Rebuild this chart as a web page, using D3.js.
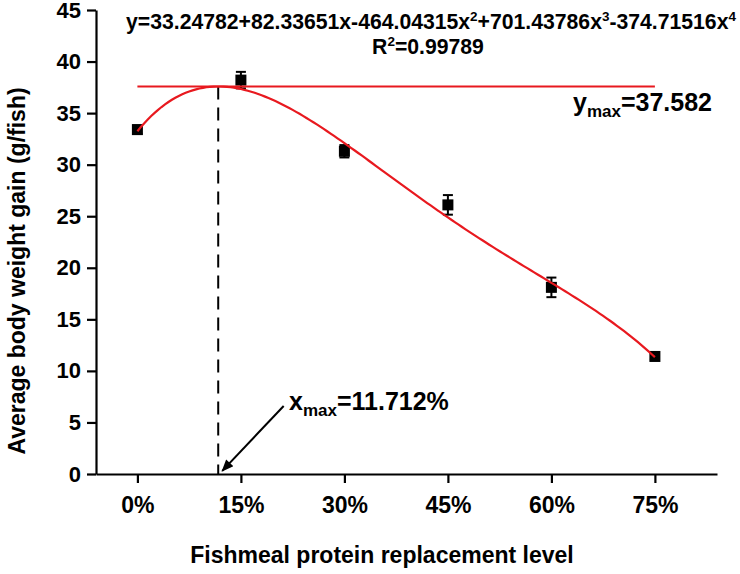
<!DOCTYPE html>
<html>
<head>
<meta charset="utf-8">
<script src="https://cdn.jsdelivr.net/npm/d3@7"></script>
<style>
  body { margin: 0; background: #fff; }
  svg text { font-family: "Liberation Sans", Arial, sans-serif; font-weight: bold; fill: #000; }
</style>
</head>
<body>
<svg id="chart" width="740" height="574"></svg>
<script>
// replacement levels (fraction) and measured gains
var levels = [0, 0.15, 0.30, 0.45, 0.60, 0.75];
var levelLabels = ["0%", "15%", "30%", "45%", "60%", "75%"];
var gain = [33.4, 38.2, 31.3, 26.1, 18.1, 11.4];
var gainErr = [0.4, 0.8, 0.6, 0.95, 0.95, 0.3];

// fitted polynomial, coefficients from the printed equation (c0 + c1 x + ...)
var coef = [33.24782, 82.33651, -464.04315, 701.43786, -374.71516];
var xMax = 0.11712;
var yMax = 37.582;

var yTicks = [0, 5, 10, 15, 20, 25, 30, 35, 40, 45];

var svg = d3.select("#chart");
var red = "#e8191f";

var x = d3.scaleLinear().domain([-0.06, 0.84]).range([96, 717]);
var y = d3.scaleLinear().domain([0, 45]).range([474, 10]);

// axes
var yAxis = d3.axisLeft(y).tickValues(yTicks).tickSize(9).tickPadding(6).tickSizeOuter(0);
var gy = svg.append("g").attr("transform", "translate(" + x.range()[0] + ",0)").call(yAxis);
gy.selectAll("text").style("font-size", "22px");

var xAxis = d3.axisBottom(x).tickValues(levels).tickFormat(function(d, i){ return levelLabels[i]; })
	.tickSize(9).tickPadding(14).tickSizeOuter(0);
var gx = svg.append("g").attr("transform", "translate(0," + y(0) + ")").call(xAxis);
gx.selectAll("text").style("font-size", "23px");

svg.selectAll(".domain").attr("stroke", "#000").attr("stroke-width", 2.2);
svg.selectAll(".tick line").attr("stroke", "#000").attr("stroke-width", 2.2);

// axis titles
svg.append("text")
	.attr("x", 382).attr("y", 563)
	.attr("text-anchor", "middle")
	.style("font-size", "23px")
	.text("Fishmeal protein replacement level");

svg.append("text")
	.attr("transform", "translate(25,271) rotate(-90)")
	.attr("text-anchor", "middle")
	.style("font-size", "23px")
	.text("Average body weight gain (g/fish)");

// error bars + markers
var pts = levels.map(function(d, i){ return {x: d, y: gain[i], e: gainErr[i]}; });
var eb = svg.append("g").attr("stroke", "#000").attr("stroke-width", 2);
pts.forEach(function(p){
	eb.append("line").attr("x1", x(p.x)).attr("x2", x(p.x)).attr("y1", y(p.y - p.e)).attr("y2", y(p.y + p.e));
	eb.append("line").attr("x1", x(p.x) - 5).attr("x2", x(p.x) + 5).attr("y1", y(p.y - p.e)).attr("y2", y(p.y - p.e));
	eb.append("line").attr("x1", x(p.x) - 5).attr("x2", x(p.x) + 5).attr("y1", y(p.y + p.e)).attr("y2", y(p.y + p.e));
});
svg.append("g").selectAll("rect").data(pts).enter()
	.append("rect")
	.attr("x", function(d){ return x(d.x) - 5.5; })
	.attr("y", function(d){ return y(d.y) - 5.5; })
	.attr("width", 11).attr("height", 11)
	.attr("fill", "#000");

// dashed line at x max
svg.append("line")
	.attr("x1", x(xMax)).attr("x2", x(xMax))
	.attr("y1", y(yMax)).attr("y2", y(0))
	.attr("stroke", "#000").attr("stroke-width", 2)
	.attr("stroke-dasharray", "13,8");

// horizontal line at y max
svg.append("line")
	.attr("x1", x(0)).attr("x2", x(0.75))
	.attr("y1", y(yMax)).attr("y2", y(yMax))
	.attr("stroke", red).attr("stroke-width", 2);

// fit curve
function poly(v){
	var s = 0;
	for (var k = 0; k < coef.length; k++){ s += coef[k] * Math.pow(v, k); }
	return s;
}
var curve = d3.range(0, 0.7501, 0.005).map(function(v){ return [v, poly(v)]; });
svg.append("path")
	.datum(curve)
	.attr("fill", "none")
	.attr("stroke", red)
	.attr("stroke-width", 2.2)
	.attr("d", d3.line().x(function(d){ return x(d[0]); }).y(function(d){ return y(d[1]); }));

// equation (text pieces with superscripts)
var eqParts = ["y=33.24782+82.33651x-464.04315x", "+701.43786x", "-374.71516x"];
var eqPowers = ["2", "3", "4"];
var eq = svg.append("text").attr("x", 431).attr("y", 29).attr("text-anchor", "middle").style("font-size", "21.2px");
eqParts.forEach(function(p, i){
	eq.append("tspan").attr("dy", i == 0 ? 0 : 8).text(p);
	eq.append("tspan").attr("dy", -8).style("font-size", "13.5px").text(eqPowers[i]);
});
var r2 = svg.append("text").attr("x", 428).attr("y", 54).attr("text-anchor", "middle").style("font-size", "21.2px");
r2.append("tspan").text("R");
r2.append("tspan").attr("dy", -8).style("font-size", "13.5px").text("2");
r2.append("tspan").attr("dy", 8).text("=0.99789");

// y max label
var ym = svg.append("text").attr("x", 573).attr("y", 111).style("font-size", "25px");
ym.append("tspan").text("y");
ym.append("tspan").attr("dy", 6).style("font-size", "17px").text("max");
ym.append("tspan").attr("dy", -6).text("=37.582");

// x max label + arrow
svg.append("defs").append("marker")
	.attr("id", "arr").attr("viewBox", "0 0 12 10").attr("refX", 11).attr("refY", 5)
	.attr("markerWidth", 7).attr("markerHeight", 5).attr("orient", "auto")
	.append("path").attr("d", "M0,0L12,5L0,10z").attr("fill", "#000");
svg.append("line")
	.attr("x1", x(0.212)).attr("y1", y(6.6))
	.attr("x2", x(xMax) + 4).attr("y2", y(0.3))
	.attr("stroke", "#000").attr("stroke-width", 2)
	.attr("marker-end", "url(#arr)");

var xm = svg.append("text").attr("x", 289).attr("y", 410).style("font-size", "25px");
xm.append("tspan").text("x");
xm.append("tspan").attr("dy", 6).style("font-size", "17px").text("max");
xm.append("tspan").attr("dy", -6).text("=11.712%");
</script>
</body>
</html>
